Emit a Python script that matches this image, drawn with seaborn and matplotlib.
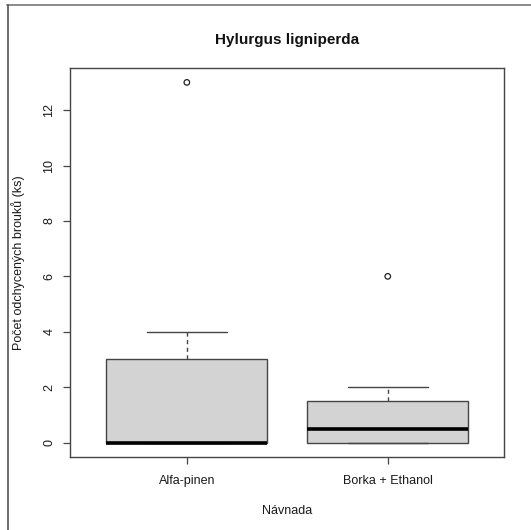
import numpy as np
import matplotlib
matplotlib.use("Agg")
import matplotlib.pyplot as plt
from matplotlib.lines import Line2D
import seaborn as sns
import pandas as pd

# Beetle counts per trap for each bait type
categories = ["Alfa-pinen", "Borka + Ethanol"]
alfa_pinen = [0, 0, 0, 0, 0, 2, 4, 13]
borka_ethanol = [0, 0, 0, 0, 1, 1, 2, 6]
yticks = [0, 2, 4, 6, 8, 10, 12]

title = "Hylurgus ligniperda"
xlabel = "Návnada"
ylabel = "Počet odchycených brouků (ks)"

sns.set_style("white")
plt.rcParams["font.family"] = ["Liberation Sans", "DejaVu Sans"]


def fivenum(values):
    """Tukey five-number summary (min, lower hinge, median, upper hinge, max)."""
    x = np.sort(np.asarray(values, dtype=float))
    n = len(x)
    n4 = np.floor((n + 3) / 2) / 2
    d = np.array([1, n4, (n + 1) / 2, n + 1 - n4, n])
    return 0.5 * (x[np.floor(d).astype(int) - 1] + x[np.ceil(d).astype(int) - 1])


def box_stats(values, label, coef=1.5):
    x = np.asarray(values, dtype=float)
    _, q1, med, q3, _ = fivenum(x)
    iqr = q3 - q1
    hi_fence = q3 + coef * iqr
    lo_fence = q1 - coef * iqr
    inside = x[(x >= lo_fence) & (x <= hi_fence)]
    return {
        "label": label,
        "q1": q1, "med": med, "q3": q3,
        "whislo": inside.min(), "whishi": inside.max(),
        "fliers": x[(x < lo_fence) | (x > hi_fence)],
    }


groups = [alfa_pinen, borka_ethanol]
stats = [box_stats(v, c) for v, c in zip(groups, categories)]
positions = np.arange(1, len(categories) + 1)

fig = plt.figure(figsize=(5.31, 5.30), dpi=100)
W, H = 531, 530
L, R, T, B = 70.3, 504.3, 68.0, 457.0
ax = fig.add_axes([L / W, 1 - B / H, (R - L) / W, (B - T) / H])

edge = "#454545"
ax.bxp(
    stats, positions=positions, widths=0.8, patch_artist=True,
    showfliers=False, manage_ticks=False,
    boxprops=dict(facecolor="#d3d3d3", edgecolor=edge, linewidth=1.0),
    medianprops=dict(color="black", linewidth=2.6, solid_capstyle="butt"),
    whiskerprops=dict(color=edge, linewidth=1.0, linestyle=(0, (3, 2.5))),
    capprops=dict(color=edge, linewidth=1.0),
    capwidths=0.4,
)

# Outlying counts as open circles
flier_df = pd.DataFrame(
    [(p, f) for p, s in zip(positions, stats) for f in s["fliers"]],
    columns=["pos", "count"],
)
sns.scatterplot(
    data=flier_df, x="pos", y="count", ax=ax, marker="o", s=16,
    facecolor="none", edgecolor="#222222", linewidth=0.9, legend=False,
)

fs = 9.0
ax.set_xlim(0.42, 2.58)
ax.set_ylim(-0.52, 13.52)
ax.set_xticks(positions)
ax.set_xticklabels(categories, fontsize=fs)
ax.set_yticks(yticks)
ax.set_yticklabels([str(t) for t in yticks], fontsize=fs, rotation=90, va="center")
ax.set_xlabel("")
ax.set_ylabel("")
ax.tick_params(axis="both", direction="out", length=4.8, width=0.9, color=edge,
               labelcolor="#1a1a1a", left=True, bottom=True)
ax.tick_params(axis="x", pad=8.3)
ax.tick_params(axis="y", pad=6)
for sp in ax.spines.values():
    sp.set_visible(True)
    sp.set_color(edge)
    sp.set_linewidth(1.0)

cx = (L + R) / 2 / W
fig.text(cx, 1 - 40 / H, title, ha="center", va="center", fontsize=11,
         fontweight="bold", color="#111111")
fig.text(cx, 1 - 510.5 / H, xlabel, ha="center", va="center", fontsize=fs,
         color="#1a1a1a")
fig.text(18 / W, 1 - (T + B) / 2 / H, ylabel, ha="center", va="center", rotation=90,
         fontsize=fs, color="#1a1a1a")

# Page frame along the top and left edges
fig.add_artist(Line2D([7 / W, 1], [1 - 4.5 / H, 1 - 4.5 / H], color="#8a8a8a",
                      linewidth=1.4, transform=fig.transFigure))
fig.add_artist(Line2D([7.5 / W, 7.5 / W], [0, 1 - 4.5 / H], color="#555555",
                      linewidth=1.2, transform=fig.transFigure))

fig.savefig("out.png", dpi=100)
